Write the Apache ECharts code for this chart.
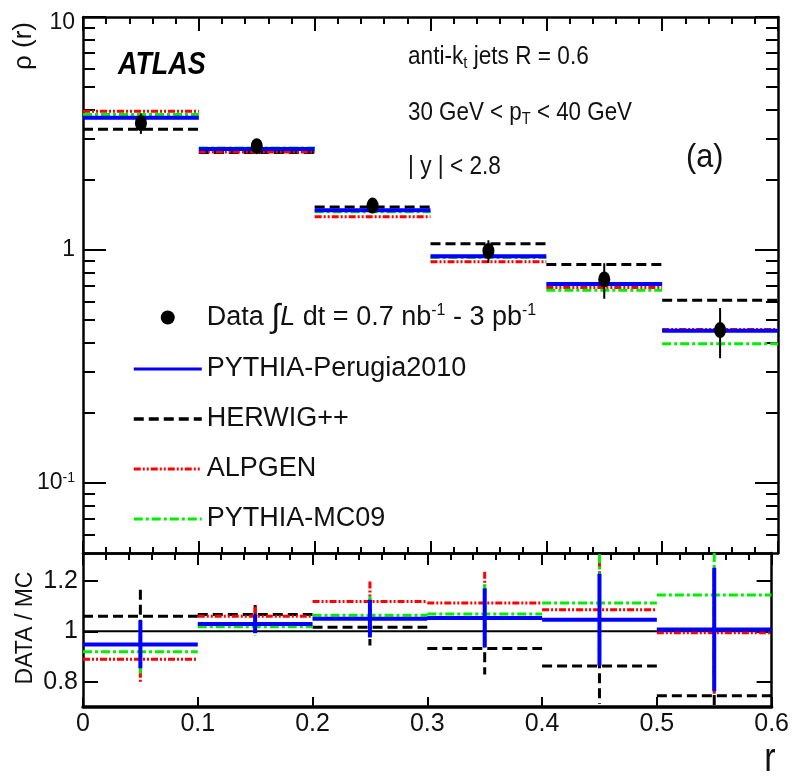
<!DOCTYPE html>
<html><head><meta charset="utf-8">
<script src="https://cdn.jsdelivr.net/npm/echarts@6/dist/echarts.min.js"></script>
<style>html,body{margin:0;padding:0;background:#fff}#c{width:792px;height:777px}</style>
</head><body><div id="c"></div>
<script>
// ---------------- data ----------------
const binEdges   = [0, 0.1, 0.2, 0.3, 0.4, 0.5, 0.6];
const binCenters = [0.05, 0.15, 0.25, 0.35, 0.45, 0.55];

const dataRho    = [3.50, 2.79, 1.55, 0.99, 0.747, 0.453];
const dataErr    = [0.35, 0.10, 0.11, 0.11, 0.13, 0.11];

const perugia2010 = [3.69, 2.71, 1.48, 0.94, 0.714, 0.450];
const herwigpp    = [3.30, 2.62, 1.53, 1.063, 0.866, 0.608];
const alpgen      = [3.94, 2.63, 1.39, 0.89, 0.689, 0.456];
const mc09        = [3.81, 2.74, 1.46, 0.927, 0.672, 0.396];

const perugiaRatio = [0.948, 1.029, 1.050, 1.053, 1.046, 1.007];
const herwigRatio  = [1.059, 1.066, 1.016, 0.932, 0.862, 0.745];
const alpgenRatio  = [0.889, 1.059, 1.118, 1.112, 1.085, 0.994];
const mc09Ratio    = [0.919, 1.018, 1.063, 1.068, 1.112, 1.144];

const rhoMajorTicks = [0.1, 1, 10];
const rhoMinorTicks = [0.06, 0.07, 0.08, 0.09, 0.2, 0.3, 0.4, 0.5, 0.6, 0.7, 0.8, 0.9,
                       2, 3, 4, 5, 6, 7, 8, 9];
const ratioTicks = [0.8, 1, 1.2];
const xTickLabels = ['0', '0.1', '0.2', '0.3', '0.4', '0.5', '0.6'];

// ---------------- styles ----------------
const F  = "'Liberation Sans Narrow','Liberation Sans',Arial,sans-serif";
const FR = "'Liberation Sans',Arial,sans-serif";
const TXT = '#111';
const ST = {
  'PYTHIA-Perugia2010': {color:'#0000ff', width:4, dash:'solid', z:6},
  'HERWIG++':           {color:'#000000', width:3, dash:[10,5], z:3},
  'ALPGEN':             {color:'#ff0000', width:3, dash:[7,2,2,2,2,2], z:4},
  'PYTHIA-MC09':        {color:'#00ee00', width:3, dash:[9,3,3,3], z:5}
};

function steps(vals){
  const out = [];
  vals.forEach((v,i)=>{
    out.push([binEdges[i], v], [binEdges[i+1], v]);
    if (i < vals.length-1) out.push([binEdges[i+1], null]);
  });
  return out;
}
function stepSeries(name, vals, xi, yi, inLegend){
  const s = ST[name];
  return {type:'line', name: inLegend ? name : name + ' (ratio)', xAxisIndex:xi, yAxisIndex:yi,
    data: steps(vals), symbol:'none', connectNulls:false, z:s.z, silent:true,
    lineStyle:{color:s.color, width:s.width, type:s.dash}, itemStyle:{color:s.color}};
}
function errSeries(tag, vals, errs, xi, yi, color, width, dash, z){
  return {type:'custom', name:'err ' + tag, xAxisIndex:xi, yAxisIndex:yi, z:z, silent:true,
    data: binCenters.map((c,i)=>[c, vals[i], errs[i]]),
    renderItem(params, api){
      const x = api.value(0), v = api.value(1), e = api.value(2);
      const cs = params.coordSys;
      const p1 = api.coord([x, v + e]);
      const p2 = api.coord([x, v - e]);
      const y1 = Math.max(cs.y, p1[1]);
      const y2 = Math.min(cs.y + cs.height, p2[1]);
      return {type:'line', shape:{x1:p1[0], y1:y1, x2:p1[0], y2:y2},
        style:{stroke:color, lineWidth:width, lineDash: dash === 'solid' ? null : dash}};
    }};
}
function ratioErr(r){ return r.map((v,i)=> v * dataErr[i] / dataRho[i]); }

// ---------------- axes ----------------
const tickLine = {color:'#000', width:2};
function xAxisDef(grid, pos, opts){
  return Object.assign({type:'value', gridIndex:grid, position:pos, min:0, max:0.6, interval:0.1,
    axisLine:{show:true, onZero:false, lineStyle:{color:'#000', width:2.5}},
    axisTick:{show:true, inside:true, length:14, lineStyle:tickLine},
    minorTick:{show:true, splitNumber:5, length:7, lineStyle:tickLine},
    axisLabel:{show:false}, splitLine:{show:false}, minorSplitLine:{show:false}}, opts||{});
}
function isPow(v, p){ return Math.abs(Math.log10(v) - p) < 1e-6; }
function rhoLabel(v){
  if (isPow(v,1)) return '{top|10}';
  if (isPow(v,0)) return '{n|1}';
  if (isPow(v,-1)) return '{n|10}{sup|-1}';
  return '';
}
const rhoRich = {
  top:{fontSize:23, fontFamily:F, color:TXT, padding:[12,0,0,0]},
  n:{fontSize:23, fontFamily:F, color:TXT, lineHeight:24},
  sup:{fontSize:14, fontFamily:F, color:TXT, verticalAlign:'top', lineHeight:12}
};
function rhoAxis(pos, major){
  return {type:'log', logBase:10, gridIndex:0, position:pos, min:0.05, max:10,
    axisLine:{show:major, lineStyle:{color:'#000', width:2.5}},
    axisTick:{show:true, inside:true, length: major ? 23 : 12,
      customValues: major ? rhoMajorTicks : rhoMinorTicks, lineStyle:tickLine},
    axisLabel:{show: major && pos === 'left', customValues: rhoMajorTicks, formatter: rhoLabel,
      margin:8, rich: rhoRich},
    splitLine:{show:false}};
}
function ratioAxis(pos){
  return {type:'value', gridIndex:1, position:pos, min:0.7, max:1.31,
    axisLine:{show:true, onZero:false, lineStyle:{color:'#000', width:2.5}},
    axisTick:{show:true, inside:true, length:15, customValues: ratioTicks, lineStyle:tickLine},
    axisLabel:{show: pos === 'left', customValues: ratioTicks, fontSize:25, fontFamily:F, color:TXT, margin:5,
      formatter: v => (Math.abs(v-1) < 1e-9 ? '1' : String(+v.toFixed(1)))},
    splitLine:{show:false}};
}

// ---------------- series ----------------
const series = [
  {type:'line', name:'unity', xAxisIndex:2, yAxisIndex:4, data:[[0,1],[0.6,1]], symbol:'none', z:2, silent:true,
   lineStyle:{color:'#000', width:2}},
  // top panel MC
  stepSeries('HERWIG++', herwigpp, 0, 0, true),
  stepSeries('ALPGEN', alpgen, 0, 0, true),
  stepSeries('PYTHIA-MC09', mc09, 0, 0, true),
  stepSeries('PYTHIA-Perugia2010', perugia2010, 0, 0, true),
  // data
  errSeries('data', dataRho, dataErr, 0, 0, '#000', 2, 'solid', 7),
  {type:'scatter', name:'Data', xAxisIndex:0, yAxisIndex:0, z:8, silent:true,
   data: binCenters.map((c,i)=>[c, dataRho[i]]), symbol:'circle', symbolSize:[12,16],
   itemStyle:{color:'#000', opacity:1}},
];
// ratio panel
[['HERWIG++', herwigRatio], ['ALPGEN', alpgenRatio], ['PYTHIA-MC09', mc09Ratio],
 ['PYTHIA-Perugia2010', perugiaRatio]].forEach(([name, r])=>{
  const s = ST[name];
  series.push(stepSeries(name, r, 2, 4, false));
  series.push(errSeries(name, r, ratioErr(r), 2, 4, s.color, s.width, s.dash, s.z));
});

const legendRich = {
  sup:{fontSize:16, fontFamily:F, color:TXT, verticalAlign:'top', lineHeight:16},
  it:{fontSize:27, fontFamily:F, color:TXT, fontStyle:'italic', lineHeight:30},
  int:{fontSize:33, fontFamily:F, color:TXT, lineHeight:30}
};
const hideSym = {opacity:0};
function legLine(name, w){
  const s = ST[name];
  return {name:name, itemStyle:hideSym,
    lineStyle:{color:s.color, width:w, type:s.dash}};
}

const option = {
  animation:false,
  backgroundColor:'#fff',
  grid:[
    {left:83, top:17, width:695, height:536},
    {left:83, top:553, width:695, height:154}
  ],
  xAxis:[
    xAxisDef(0, 'bottom', {axisTick:{show:true, inside:true, length:12, lineStyle:tickLine}, minorTick:{show:true, splitNumber:5, length:6, lineStyle:tickLine}}),
    xAxisDef(0, 'top'),
    xAxisDef(1, 'bottom', {
      axisLine:{show:true, onZero:false, lineStyle:{color:'#000', width:3.5}},
      axisTick:{show:true, inside:true, length:10, lineStyle:tickLine},
      minorTick:{show:false},
      axisLabel:{show:true, fontSize:25, fontFamily:F, color:TXT, margin:5,
        formatter: v => xTickLabels[Math.round(v*10)]}}),
    xAxisDef(1, 'top', {axisTick:{show:true, inside:true, length:12, lineStyle:tickLine}, minorTick:{show:true, splitNumber:5, length:7, lineStyle:tickLine}})
  ],
  yAxis:[
    rhoAxis('left', true),
    rhoAxis('left', false),
    rhoAxis('right', true),
    rhoAxis('right', false),
    ratioAxis('left'),
    ratioAxis('right')
  ],
  legend:{
    orient:'vertical', left:127, top:296, itemWidth:68, itemHeight:14, itemGap:20,
    selectedMode:false,
    data:[
      {name:'Data', icon:'circle'},
      legLine('PYTHIA-Perugia2010', 3),
      legLine('HERWIG++', 3.5),
      legLine('ALPGEN', 3),
      legLine('PYTHIA-MC09', 3)
    ],
    textStyle:{fontSize:27, fontFamily:F, color:TXT, lineHeight:30, rich:legendRich},
    formatter: n => n === 'Data' ? 'Data {int|∫}{it|L} dt = 0.7 nb{sup|-1} - 3 pb{sup|-1}' : n
  },
  graphic:[
    {type:'text', x:118, y:65, scaleX:0.84, style:{text:'ATLAS', fontSize:32, fontWeight:'bold', fontStyle:'italic',
      fontFamily:F, fill:'#000', verticalAlign:'middle', align:'left'}},
    {type:'text', x:408, y:57, scaleX:0.87, style:{text:'anti-k{sub|t} jets R = 0.6', fontSize:26, fontFamily:F, fill:TXT,
      lineHeight:30, verticalAlign:'middle', align:'left',
      rich:{sub:{fontSize:17, fontFamily:F, fill:TXT, verticalAlign:'bottom', lineHeight:8}}}},
    {type:'text', x:408, y:113, scaleX:0.86, style:{text:'30 GeV < p{sub|T} < 40 GeV', fontSize:26, fontFamily:F, fill:TXT,
      lineHeight:30, verticalAlign:'middle', align:'left',
      rich:{sub:{fontSize:17, fontFamily:F, fill:TXT, verticalAlign:'bottom', lineHeight:4}}}},
    {type:'text', x:408, y:167, scaleX:0.87, style:{text:'| y | < 2.8', fontSize:26, fontFamily:F, fill:TXT,
      verticalAlign:'middle', align:'left'}},
    {type:'text', x:686, y:158, scaleX:0.9, style:{text:'(a)', fontSize:34, fontFamily:F, fill:TXT,
      verticalAlign:'middle', align:'left'}},
    {type:'text', x:24, y:46, rotation:Math.PI/2, style:{text:'ρ (r)', fontSize:26, fontFamily:FR, fill:TXT,
      verticalAlign:'middle', align:'center'}},
    {type:'text', x:26, y:628, rotation:Math.PI/2, style:{text:'DATA / MC', fontSize:23, fontFamily:FR, fill:TXT,
      verticalAlign:'middle', align:'center'}},
    {type:'text', x:770, y:760, scaleX:0.85, style:{text:'r', fontSize:40, fontFamily:F, fill:TXT,
      verticalAlign:'middle', align:'center'}}
  ],
  series: series
};

const chart = echarts.init(document.getElementById('c'), null, {renderer:'canvas'});
chart.setOption(option);
</script>
</body></html>
